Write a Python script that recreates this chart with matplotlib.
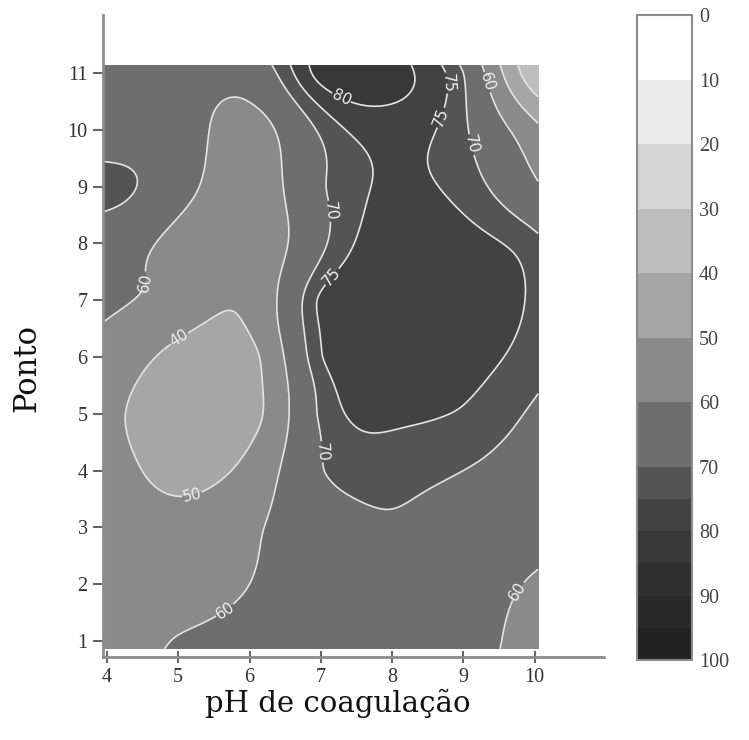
import numpy as np
import matplotlib
matplotlib.use("Agg")
import matplotlib.pyplot as plt

# pH de coagulação (x) e ponto de coleta (y)
ph = [4, 5, 6, 7, 8, 9, 10]
ponto = [1, 2, 3, 4, 5, 6, 7, 8, 9, 10, 11]

remocao = [
    [56.0, 60.5, 63.0, 64.0, 65.0, 64.0, 56.0],
    [56.0, 55.0, 60.0, 64.0, 65.0, 64.0, 59.0],
    [56.0, 53.0, 58.5, 65.0, 69.0, 66.0, 64.0],
    [54.0, 47.0, 53.0, 69.5, 72.0, 70.0, 66.0],
    [52.0, 45.0, 46.0, 71.0, 76.0, 74.5, 69.0],
    [56.0, 47.0, 47.0, 74.5, 78.5, 77.0, 72.5],
    [61.5, 57.0, 52.0, 76.0, 78.5, 78.5, 74.0],
    [64.0, 57.0, 52.0, 68.5, 78.4, 77.0, 72.0],
    [73.0, 64.0, 55.0, 69.0, 75.8, 73.0, 61.5],
    [64.0, 65.0, 56.0, 71.0, 77.0, 71.0, 53.0],
    [65.0, 65.0, 64.0, 82.0, 82.0, 70.0, 33.0],
]

niveis = [0, 10, 20, 30, 40, 50, 60, 70, 75, 80, 85, 90, 95, 100]
cores = ['#ffffff', '#ebebeb', '#d6d6d6', '#bebebe', '#a6a6a6', '#8a8a8a',
         '#6e6e6e', '#545454', '#424242', '#383838', '#303030', '#292929', '#222222']
linhas = [40, 50, 60, 70, 75, 80]
rotulos = [(4.35, 7.35), (5.19, 5.95), (5.23, 3.36), (5.74, 1.37), (7.28, 8.59),
           (7.24, 7.32), (7.03, 4.33), (7.32, 10.65), (8.71, 10.82), (8.71, 10.2),
           (9.37, 10.85), (9.37, 9.82), (9.89, 1.77)]

# interpolação thin-plate spline sobre a malha dos pontos
gx, gy = np.meshgrid(ph, ponto)
px = gx.ravel().astype(float)
py = gy.ravel().astype(float)
v = np.array(remocao).ravel()


def kern(r):
    with np.errstate(divide='ignore', invalid='ignore'):
        k = r ** 2 * np.log(r)
    return np.nan_to_num(k)


n = len(v)
A = np.zeros((n + 3, n + 3))
A[:n, :n] = kern(np.hypot(px[:, None] - px[None, :], py[:, None] - py[None, :]))
P = np.column_stack([np.ones(n), px, py])
A[:n, n:] = P
A[n:, :n] = P.T
coef = np.linalg.solve(A, np.concatenate([v, np.zeros(3)]))

xi = np.linspace(3.94, 10.05, 400)
yi = np.linspace(0.86, 11.14, 400)
XI, YI = np.meshgrid(xi, yi)
r = np.hypot(XI.ravel()[:, None] - px[None, :], YI.ravel()[:, None] - py[None, :])
Z = kern(r) @ coef[:n] + coef[n] + coef[n + 1] * XI.ravel() + coef[n + 2] * YI.ravel()
Z = np.clip(Z.reshape(XI.shape), 0, 100)

fig = plt.figure(figsize=(7.49, 7.40), dpi=100)
ax = fig.add_axes([0.1375, 0.1122, 0.6685, 0.8675])
cf = ax.contourf(XI, YI, Z, levels=niveis, colors=cores)
cs = ax.contour(XI, YI, Z, levels=linhas, colors='#e4e4e4', linewidths=1.2)
txt = ax.clabel(cs, linhas, manual=rotulos, inline=True, fmt='%d', fontsize=11,
                colors='#f0f0f0', inline_spacing=2)
if len(txt) > 1:
    txt[1].set_text('40')

ax.set_xlim(3.944, 10.97)
ax.set_ylim(0.718, 12.02)
ax.set_xticks(ph)
ax.set_yticks(ponto)
for s in ['top', 'right']:
    ax.spines[s].set_visible(False)
for s in ['left', 'bottom']:
    ax.spines[s].set_color('#8c8c8c')
    ax.spines[s].set_linewidth(2)
    ax.spines[s].set_zorder(5)
ax.tick_params(axis='y', direction='out', length=7, width=1.5, color='#666666',
               labelsize=14.5, labelcolor='#333333', pad=4)
ax.tick_params(axis='x', direction='inout', length=8, width=1.5, color='#666666',
               labelsize=14.5, labelcolor='#333333', pad=4)
for t in ax.get_xticklabels() + ax.get_yticklabels():
    t.set_family('Liberation Serif')
ax.set_xlabel('pH de coagulação', family='DejaVu Serif', fontsize=21, color='#111111')
ax.set_ylabel('Ponto', family='DejaVu Serif', fontsize=22, color='#111111')
ax.xaxis.set_label_coords(0.469, -0.05)
ax.yaxis.set_label_coords(-0.122, 0.45)

cax = fig.add_axes([0.8505, 0.108, 0.0734, 0.8716])
cb = fig.colorbar(cf, cax=cax, spacing='proportional', ticks=list(range(0, 101, 10)),
                  drawedges=True)
cax.invert_yaxis()
cb.outline.set_edgecolor('#8c8c8c')
cb.outline.set_linewidth(1.5)
cb.dividers.set_color('#2a2a2a')
cb.dividers.set_linewidth(1.2)
cax.tick_params(length=0, labelsize=14.5, labelcolor='#444444', pad=5)
for t in cax.get_yticklabels():
    t.set_family('Liberation Serif')

fig.savefig('out.png', dpi=100)
